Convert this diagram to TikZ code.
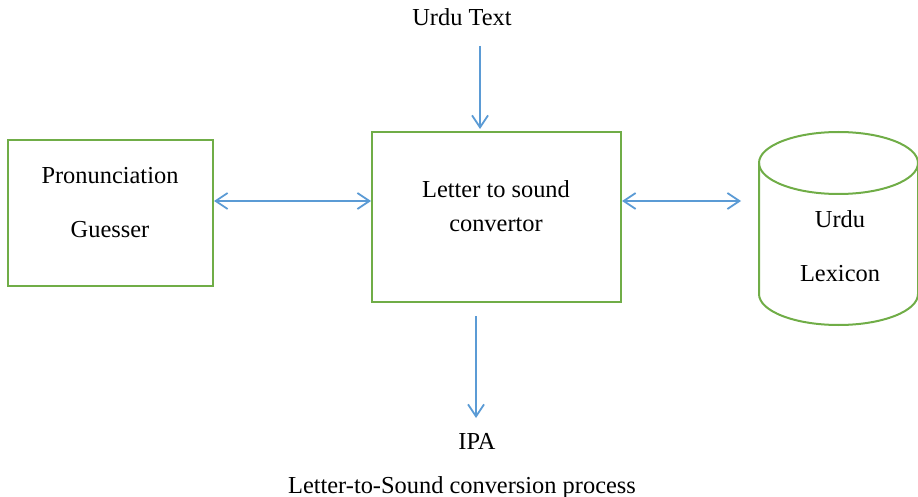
\documentclass[tikz,border=0pt]{standalone}
\usepackage{fontspec}
\setmainfont{Liberation Serif}
\usetikzlibrary{arrows.meta}
\definecolor{boxgreen}{HTML}{70AD47}
\definecolor{arrowblue}{HTML}{5B9BD5}
\tikzset{
  tip/.tip={Straight Barb[length=12pt,width=16pt,line width=1.8pt]},
  box/.style={draw=boxgreen, line width=2pt},
  conn/.style={draw=arrowblue, line width=2pt, arrows={tip-tip}},
  oneway/.style={draw=arrowblue, line width=2pt, arrows={-tip}},
  lbl/.style={font=\fontsize{24.4}{29}\selectfont, inner sep=0pt, anchor=base}
}
\begin{document}
\begin{tikzpicture}[x=1pt,y=-1pt]
\useasboundingbox (0,0) rectangle (918,497);
% boxes
\node[box, minimum width=205pt, minimum height=146pt, inner sep=0pt] (pg) at (110.5,213) {};
\node[box, minimum width=249pt, minimum height=170pt, inner sep=0pt] (lts) at (496.5,217) {};
% cylinder
\draw[boxgreen, line width=2pt] (838.5,163) ellipse[x radius=79.5pt, y radius=31pt];
\draw[boxgreen, line width=2pt] (759,163) -- (759,294) arc[start angle=180, end angle=360, x radius=79.5pt, y radius=31pt] -- (918,163);
\coordinate (lexl) at (741,201);
% texts
\node[lbl] (t1) at (110,184) {Pronunciation};
\node[lbl] (t2) at (110,237) {Guesser};
\node[lbl] (t3) at (496,198) {Letter to sound};
\node[lbl] (t4) at (496,231) {convertor};
\node[lbl] (t5) at (840,228) {Urdu};
\node[lbl] (t6) at (840,281) {Lexicon};
\node[lbl] (urdu) at (462,26) {Urdu Text};
\node[lbl] (ipa) at (477,449) {IPA};
\node[lbl] (cap) at (462,493) {Letter-to-Sound conversion process};
% connectors
\coordinate (utop) at (480,46);
\coordinate (ubot) at (480,129);
\draw[oneway] (utop) -- (ubot);
\coordinate (ltop) at (476,316);
\coordinate (lbot) at (476,418);
\draw[oneway] (ltop) -- (lbot);
\draw[conn] (pg.east |- 0,201) -- (lts.west |- 0,201);
\draw[conn] (lts.east |- 0,201) -- (lexl);
\end{tikzpicture}
\end{document}
